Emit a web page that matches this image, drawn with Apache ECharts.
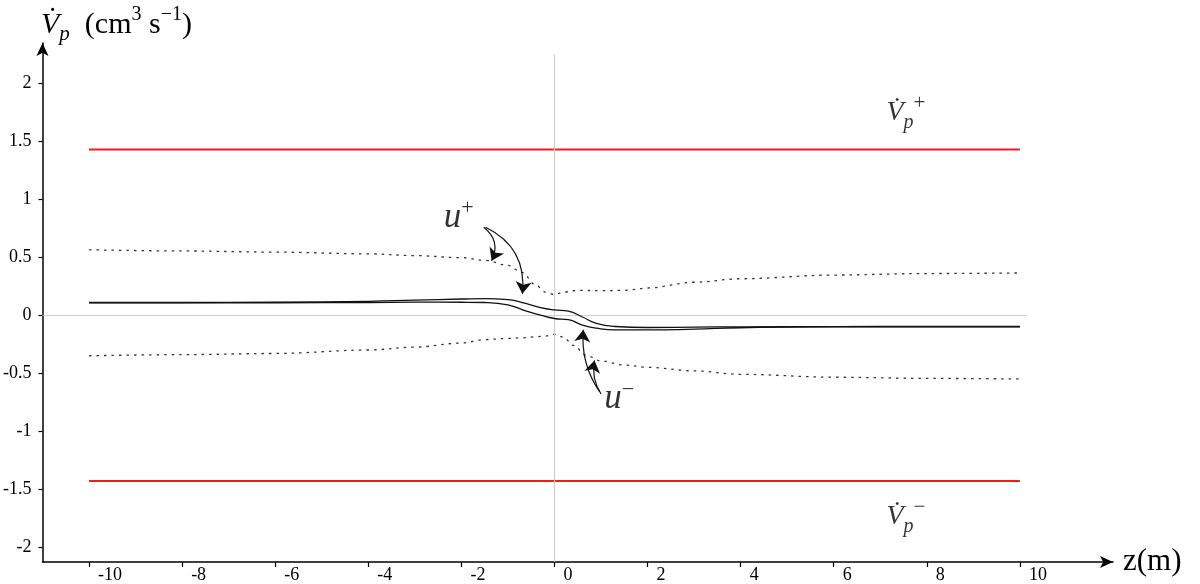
<!DOCTYPE html>
<html><head><meta charset="utf-8">
<script src="https://cdn.jsdelivr.net/npm/echarts@6/dist/echarts.min.js"></script>
<style>html,body{margin:0;padding:0;background:#fff}#c{width:1200px;height:584px}</style>
</head><body><div id="c"></div>
<script>
// ---- data ----
const xTicks = [-10, -8, -6, -4, -2, 0, 2, 4, 6, 8, 10];
const xTickLabels = ['-10', '-8', '-6', '-4', '-2', '0', '2', '4', '6', '8', '10'];
const yTicks = [-2, -1.5, -1, -0.5, 0, 0.5, 1, 1.5, 2];
const yTickLabels = ['-2', '-1.5', '-1', '-0.5', '0', '0.5', '1', '1.5', '2'];

const zBound = [-10, 10];
const vpPlus = [1.43, 1.43];
const vpMinus = [-1.43, -1.43];

const zSolid = [-10, -8, -6, -4, -3, -2, -1.5, -1, -0.6, -0.3, 0, 0.3, 0.6, 0.9, 1.3, 2, 3, 4, 6, 8, 10];
const uPlusSolid = [0.11, 0.11, 0.112, 0.12, 0.13, 0.14, 0.144, 0.135, 0.1, 0.066, 0.046, 0.035, -0.015, -0.07, -0.097, -0.106, -0.103, -0.1, -0.098, -0.097, -0.097];
const uMinusSolid = [0.108, 0.108, 0.108, 0.11, 0.113, 0.112, 0.11, 0.09, 0.035, 0.0, -0.028, -0.038, -0.085, -0.112, -0.127, -0.127, -0.12, -0.108, -0.1, -0.1, -0.1];

const zDotUp = [-10, -8, -6, -4, -3, -2, -1.5, -1, -0.7, -0.4, -0.2, 0, 0.2, 0.5, 1, 1.5, 2, 3, 4, 6, 8, 10];
const dotUp = [0.565, 0.555, 0.545, 0.53, 0.515, 0.497, 0.475, 0.43, 0.37, 0.26, 0.2, 0.18, 0.2, 0.215, 0.212, 0.215, 0.235, 0.285, 0.315, 0.347, 0.36, 0.365];
const zDotLow = [-10, -8, -6, -4, -3, -2, -1.5, -1, -0.7, -0.4, -0.2, 0, 0.2, 0.4, 0.7, 1, 1.5, 2, 3, 4, 6, 8, 10];
const dotLow = [-0.35, -0.34, -0.33, -0.3, -0.275, -0.24, -0.21, -0.2, -0.195, -0.185, -0.18, -0.165, -0.19, -0.26, -0.35, -0.395, -0.43, -0.45, -0.48, -0.51, -0.535, -0.545, -0.55];

// annotation arrows (data coords) and label anchors
const arrowStart = [[-1.52, 0.76], [-1.48, 0.76], [0.97, -0.66], [1.0, -0.68]];
const arrowEnd = [[-1.35, 0.47], [-0.69, 0.185], [0.62, -0.125], [0.86, -0.39]];
const arrowBend = [0.4, 0.35, 0.18, 0.2];
const labelPos = [[-2.06, 0.845], [1.39, -0.724], [7.55, 1.75], [7.55, -1.74]];
const labelText = ['{u|u}{sup|+}', '{u|u}{sup|\u2212}', '{v|V\u0307}{sub|p}{vsup|+}', '{v|V\u0307}{sub|p}{vsup|\u2212}'];

const X_MIN = -11, X_MAX = 12, Y_MIN = -2.13, Y_MAX = 2.35;
const SERIF = 'Liberation Serif';

const zip = (a, b) => a.map((x, i) => [x, b[i]]);

const chart = echarts.init(document.getElementById('c'), null, {renderer: 'canvas'});
const option = {
  backgroundColor: '#fff',
  animation: false,
  title: {
    text: '{v|V\u0307}{sub|p}{n|  (cm}{sup|3}{n| s}{sup|\u22121}{n|)}',
    left: 36, top: 0,
    textStyle: {
      fontWeight: 'normal',
      rich: {
        v: {fontFamily: SERIF, fontStyle: 'italic', fontWeight: 'normal', fontSize: 30, color: '#000', lineHeight: 40, verticalAlign: 'middle'},
        sub: {fontFamily: SERIF, fontStyle: 'italic', fontWeight: 'normal', fontSize: 21, color: '#000', lineHeight: 20, verticalAlign: 'bottom'},
        sup: {fontFamily: SERIF, fontWeight: 'normal', fontSize: 20, color: '#000', lineHeight: 24, verticalAlign: 'top'},
        n: {fontFamily: SERIF, fontWeight: 'normal', fontSize: 30, color: '#000', lineHeight: 40, verticalAlign: 'middle'}
      }
    }
  },
  grid: {left: 41, right: 87, top: 43, bottom: 21, containLabel: false},
  xAxis: {
    type: 'value', min: X_MIN, max: X_MAX,
    name: 'z(m)', nameLocation: 'end', nameGap: 10,
    nameTextStyle: {fontFamily: SERIF, fontSize: 31, color: '#000', verticalAlign: 'middle'},
    axisLine: {onZero: false, show: true, symbol: ['none', 'arrow'], symbolSize: [9, 13], lineStyle: {color: '#000', width: 1.5}},
    axisTick: {show: true, inside: false, length: 5, customValues: xTicks, lineStyle: {color: '#000', width: 1.2}},
    axisLabel: {
      show: true, customValues: xTicks, margin: 4, align: 'left', padding: [0, 0, 0, 9],
      fontFamily: SERIF, fontSize: 18, color: '#000',
      formatter: v => { const i = xTicks.indexOf(v); return i >= 0 ? xTickLabels[i] : ''; }
    },
    splitLine: {show: false}
  },
  yAxis: {
    type: 'value', min: Y_MIN, max: Y_MAX,
    axisLine: {onZero: false, show: true, symbol: ['none', 'arrow'], symbolSize: [9, 13], lineStyle: {color: '#000', width: 1.5}},
    axisTick: {show: true, inside: false, length: 4, customValues: yTicks, lineStyle: {color: '#000', width: 1.2}},
    axisLabel: {
      show: true, customValues: yTicks, margin: 11,
      fontFamily: SERIF, fontSize: 18, color: '#000',
      formatter: v => { const i = yTicks.indexOf(v); return i >= 0 ? yTickLabels[i] : ''; }
    },
    splitLine: {show: false}
  },
  series: [
    {
      type: 'line', name: 'Vp+', data: zip(zBound, vpPlus), symbol: 'none', silent: true,
      lineStyle: {color: '#ee1c1c', width: 2}, z: 3,
      markLine: {
        silent: true, symbol: 'none', label: {show: false},
        lineStyle: {color: '#cfcfcf', width: 1.2, type: 'solid'},
        data: [
          [{coord: [0, Y_MIN]}, {coord: [0, 2.25]}],
          [{coord: [X_MIN, 0]}, {coord: [10.15, 0]}]
        ]
      }
    },
    {type: 'line', name: 'Vp-', data: zip(zBound, vpMinus), symbol: 'none', silent: true, lineStyle: {color: '#ee1c1c', width: 2}, z: 3},
    {type: 'line', name: 'dotUp', data: zip(zDotUp, dotUp), symbol: 'none', smooth: 0.35, smoothMonotone: 'x', silent: true,
      lineStyle: {color: '#333', width: 1.3, type: [2.5, 5]}, z: 4},
    {type: 'line', name: 'dotLow', data: zip(zDotLow, dotLow), symbol: 'none', smooth: 0.35, smoothMonotone: 'x', silent: true,
      lineStyle: {color: '#333', width: 1.3, type: [2.5, 5]}, z: 4},
    {type: 'line', name: 'u+', data: zip(zSolid, uPlusSolid), symbol: 'none', smooth: 0.5, silent: true,
      lineStyle: {color: '#111', width: 1.3}, z: 5},
    {type: 'line', name: 'u-', data: zip(zSolid, uMinusSolid), symbol: 'none', smooth: 0.5, silent: true,
      lineStyle: {color: '#111', width: 1.3}, z: 5},
    {
      type: 'lines', coordinateSystem: 'cartesian2d', silent: true, z: 6,
      symbol: ['none', 'arrow'], symbolSize: [8, 12],
      lineStyle: {color: '#111', width: 1.2, opacity: 1},
      data: arrowStart.map((s, i) => ({coords: [s, arrowEnd[i]], lineStyle: {curveness: arrowBend[i]}}))
    },
    {
      type: 'scatter', silent: true, symbolSize: 0, z: 7,
      data: labelPos.map((p, i) => ({value: p, label: {formatter: labelText[i]}})),
      label: {
        show: true, position: 'inside', color: '#000',
        rich: {
          u: {fontFamily: SERIF, fontStyle: 'italic', fontSize: 35, color: '#000', lineHeight: 40, verticalAlign: 'middle'},
          sup: {fontFamily: SERIF, fontSize: 22, color: '#000', lineHeight: 26, verticalAlign: 'top'},
          v: {fontFamily: SERIF, fontStyle: 'italic', fontSize: 28, color: '#000', lineHeight: 40, verticalAlign: 'middle'},
          sub: {fontFamily: SERIF, fontStyle: 'italic', fontSize: 20, color: '#000', lineHeight: 18, verticalAlign: 'bottom'},
          vsup: {fontFamily: SERIF, fontSize: 21, color: '#000', lineHeight: 26, verticalAlign: 'top'}
        }
      }
    }
  ]
};
chart.setOption(option);
</script>
</body></html>
